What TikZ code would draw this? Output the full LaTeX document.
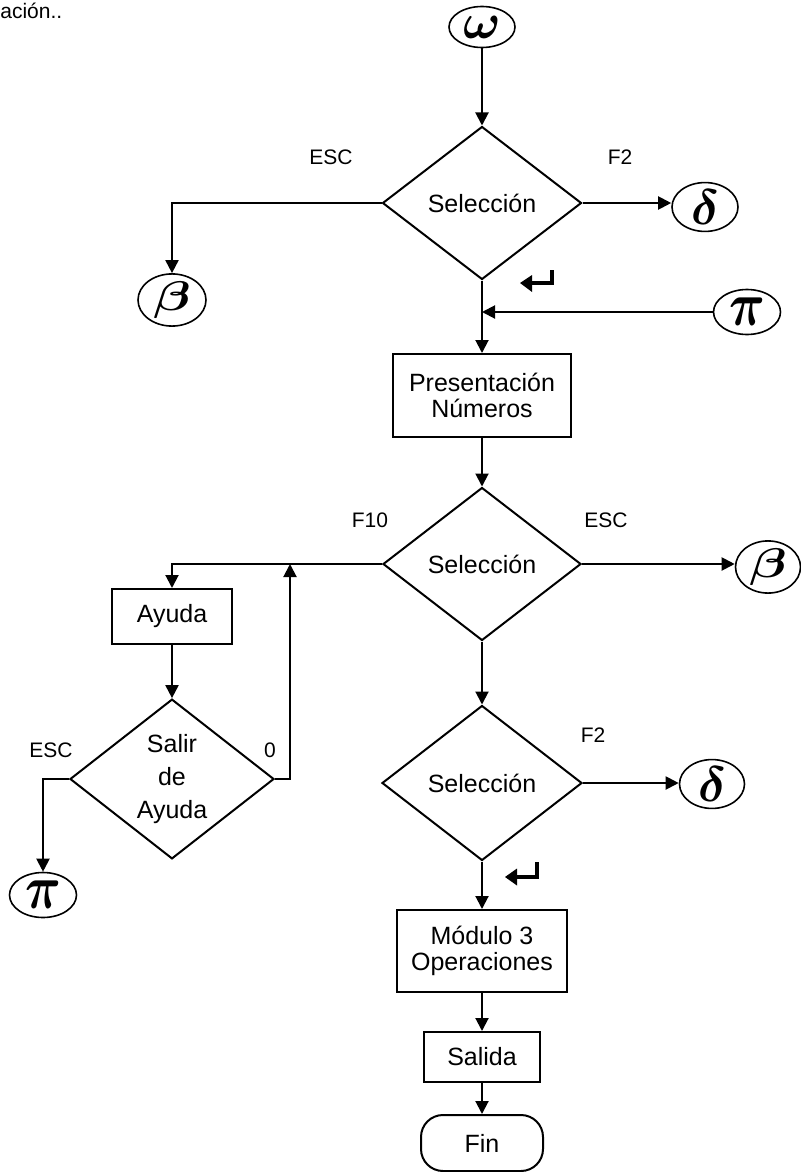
\documentclass[tikz,border=0pt]{standalone}
\usepackage{fontspec}
\setmainfont{Liberation Sans}
\usepackage{amsmath,bm}
\usetikzlibrary{shapes.geometric,arrows.meta,calc}

\begin{document}
\begin{tikzpicture}[x=0.5pt,y=-0.5pt,
  every node/.style={inner sep=0pt, font=\fontsize{12.5}{13}\selectfont},
  flow/.style={line width=1pt},
  arr/.style={flow,-{Triangle[length=6.5pt,width=6.5pt]}},
  proc/.style={draw,line width=1pt,rectangle,align=center},
  decision/.style={draw,line width=1pt,diamond,align=center},
  conn/.style={draw,line width=0.8pt,ellipse},
  term/.style={draw,line width=1pt,rectangle,rounded corners=11pt},
  lbl/.style={font=\fontsize{10.5}{10.5}\selectfont},
  greek/.style={font=\fontsize{#1}{#1}\selectfont},
  enterkey/.style={line width=2pt},
]
\useasboundingbox (0,0) rectangle (801,1172);

% page text fragment
\node[lbl,anchor=west] (head) at (0,11) {ación..};

% connectors (circled symbols)
\node[conn,minimum width=33pt,minimum height=20.5pt,greek=30] (omega) at (482,27) {$\bm{\omega}$};
\node[conn,minimum width=34pt,minimum height=22.5pt] (beta1) at (172,300) {\scalebox{1.3}[1]{\fontsize{20}{20}\selectfont$\bm{\beta}$}};
\node[conn,minimum width=33pt,minimum height=22pt,greek=24] (delta1) at (705,207) {$\bm{\delta}$};
\node[conn,minimum width=33.5pt,minimum height=22.5pt] (pi1) at (747,312) {\scalebox{1}[1.25]{\fontsize{30}{30}\selectfont$\bm{\pi}$}};
\node[conn,minimum width=32.5pt,minimum height=22.5pt] (beta2) at (768,567) {\scalebox{1.3}[1]{\fontsize{20}{20}\selectfont$\bm{\beta}$}};
\node[conn,minimum width=33.5pt,minimum height=22.5pt] (pi2) at (43,895) {\scalebox{1}[1.25]{\fontsize{30}{30}\selectfont$\bm{\pi}$}};
\node[conn,minimum width=32.5pt,minimum height=23.5pt,greek=24] (delta2) at (712,784) {$\bm{\delta}$};

% decisions
\node[decision,minimum width=99.5pt,minimum height=76.5pt] (d1) at (482,203) {Selección};
\node[decision,minimum width=99pt,minimum height=76.5pt] (d2) at (482,564) {Selección};
\node[decision,minimum width=100pt,minimum height=77.5pt] (d3) at (482,783) {Selección};
\node[decision,minimum width=102pt,minimum height=76.5pt,font=\fontsize{12.5}{16.5}\selectfont] (salir) at (172,779) {Salir\\de\\Ayuda};

% processes
\node[proc,minimum width=89pt,minimum height=41.5pt] (pres) at (482,395.5) {Presentación\\Números};
\node[proc,minimum width=60pt,minimum height=27.5pt] (ayuda) at (172,616.5) {Ayuda};
\node[proc,minimum width=85pt,minimum height=41pt,font=\fontsize{12.5}{13}\selectfont] (modulo) at (482,951) {Módulo 3\\Operaciones};
\node[proc,minimum width=58pt,minimum height=25pt] (salida) at (482,1057) {Salida};
\node[term,minimum width=61pt,minimum height=28pt] (fin) at (482,1143) {Fin};

% branch labels
\node[lbl] (l1) at (331,157) {ESC};
\node[lbl] (l2) at (620,157) {F2};
\node[lbl] (l3) at (370,520) {F10};
\node[lbl] (l4) at (606,520) {ESC};
\node[lbl] (l5) at (593,735) {F2};
\node[lbl] (l6) at (51,750) {ESC};
\node[lbl] (l7) at (270,750) {0};

% flow lines
\draw[arr] (omega.south) -- (d1.north);
\draw[arr] (d1.west) -| (beta1.north);
\draw[arr] (d1.east) -- (d1.east -| delta1.west);
\draw[arr] (d1.south) -- (pres.north);
\draw[arr] (pi1.west) -- (pi1.west -| d1.south);
\draw[arr] (pres.south) -- (d2.north);
\draw[arr] (d2.east) -- (d2.east -| beta2.west);
\draw[arr] (d2.west) -| (ayuda.north);
\draw[arr] (ayuda.south) -- (salir.north);
\coordinate (j1) at ($(salir.east)+(15,0)$);
\coordinate (j2) at (j1 |- d2.west);
\draw[arr] (salir.east) -| (j2);
\draw[arr] (salir.west) -| (pi2.north);
\draw[arr] (d2.south) -- (d3.north);
\draw[arr] (d3.east) -- (d3.east -| delta2.west);
\draw[arr] (d3.south) -- (modulo.north);
\draw[arr] (modulo.south) -- (salida.north);
\draw[arr] (salida.south) -- (fin.north);

% return-key marks
\draw[enterkey] (552,270) -- (552,283) -- (530,283);
\fill (520,283) -- (532,275) -- (532,292) -- cycle;
\draw[enterkey] (537,862) -- (537,877) -- (515,877);
\fill (505,877) -- (517,868.5) -- (517,885.5) -- cycle;
\end{tikzpicture}
\end{document}
